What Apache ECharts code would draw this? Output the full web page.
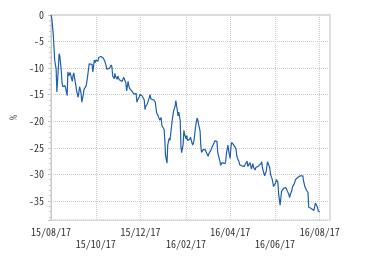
<!DOCTYPE html>
<html>
<head>
<meta charset="utf-8">
<script src="https://cdn.jsdelivr.net/npm/echarts@6/dist/echarts.min.js"></script>
<style>html,body{margin:0;padding:0;background:#fff;}#c{width:380px;height:259px;}</style>
</head>
<body>
<div id="c"></div>
<script>
// start date of the series and x-axis extent
const startDate = '2015-08-17';
const endDate = '2016-08-31';
// days elapsed since startDate for each observation
const days = [0,1,3,5,7,8,10,11,12,14,
15,16,18,19,20,22,23,24,26,27,
29,30,31,33,34,35,37,38,39,41,
42,44,45,46,48,50,52,54,56,57,
59,60,61,64,65,68,69,71,73,75,
76,78,80,82,83,84,86,87,88,90,
91,93,94,95,97,98,99,101,102,103,
105,106,107,109,110,112,113,114,116,117,
118,120,121,124,125,127,128,129,131,132,
135,136,137,140,142,143,144,146,147,148,
150,151,152,154,155,156,158,159,161,162,
163,165,166,167,169,170,171,173,174,176,
177,178,180,181,182,184,185,186,188,189,
190,192,193,195,196,197,199,200,201,203,
204,205,207,208,210,211,212,214,215,216,
218,219,220,222,223,224,226,227,229,230,
231,233,234,235,237,238,239,241,242,244,
245,246,248,249,250,252,253,254,256,257,
260,263,264,265,267,268,269,271,272,273,
275,276,278,279,280,282,283,284,286,287,
288,290,291,293,294,295,297,298,299,301,
302,303,305,306,307,309,310,312,313,314,
316,317,318,320,321,322,324,325,326,328,
329,331,332,333,335,336,337,339,340,341,
343,344,346,347,348,350,351,352,354,355,
356,358,359,360,362,363,364,366];
// cumulative change, %
const values = [0,-0.5,-3.5,-8.5,-10.2,-14.5,-10,-7.3,-7.7,-10.5,
-12.8,-13.5,-13.6,-13.3,-13.8,-15.2,-10.7,-11.5,-10.8,-10.5,
-12.5,-11.4,-10.9,-12.6,-13.4,-14.4,-15.5,-15.8,-13.5,-14.8,
-16.4,-15.0,-14.0,-13.7,-13.3,-11.4,-9.2,-9.0,-9.3,-10.7,
-8.5,-9.0,-8.5,-8.7,-8.0,-7.8,-7.8,-8.1,-8.6,-9.5,
-10.2,-10.4,-10.0,-9.4,-9.8,-11.5,-12.0,-11.0,-11.6,-12.1,
-11.5,-12.2,-12.0,-12.4,-12.5,-12.2,-11.7,-12.0,-12.8,-14.3,
-12.5,-13.3,-13.8,-13.9,-14.3,-14.6,-14.9,-15.2,-14.8,-16.4,
-16.0,-15.5,-15.0,-15.2,-15.3,-16.0,-17.8,-17.2,-16.8,-16.4,
-15.0,-15.8,-16.1,-16.0,-16.4,-17.5,-18.5,-19.0,-19.3,-19.8,
-19.3,-20.8,-20.6,-21.5,-23.5,-26.5,-27.9,-24.5,-23.2,-23.6,
-22.4,-19.9,-19.0,-18.0,-17.2,-16.1,-17.0,-19.0,-18.3,-19.9,
-24.9,-25.9,-24.3,-21.7,-22.5,-23.3,-22.7,-23.6,-23.9,-23.4,
-23.0,-24.1,-24.5,-23.5,-22.1,-20.9,-19.4,-19.8,-20.6,-21.8,
-24.5,-25.9,-25.4,-25.2,-25.3,-25.7,-25.4,-26.6,-26.1,-25.9,
-25.4,-25.0,-24.7,-24.1,-23.7,-23.4,-23.8,-25.8,-27.0,-27.5,
-28.3,-27.8,-28.0,-27.9,-28.0,-27.4,-26.0,-24.5,-25.6,-27.0,
-25.0,-24.0,-24.2,-24.5,-24.6,-25.2,-26.5,-27.0,-27.6,-28.2,
-28.4,-28.5,-28.6,-28.0,-27.5,-28.5,-28.6,-27.8,-28.3,-29.0,
-28.0,-28.7,-29.2,-28.7,-28.9,-28.5,-28.3,-28.6,-28.0,-27.6,
-28.8,-29.8,-30.3,-29.5,-28.5,-27.6,-27.8,-28.8,-30.0,-30.8,
-31.4,-32.3,-32.6,-31.6,-31.0,-31.5,-33.6,-35.8,-34.5,-33.2,
-33.0,-32.6,-32.4,-32.5,-32.8,-33.2,-33.8,-34.4,-33.8,-33.0,
-32.3,-31.9,-31.5,-31.0,-30.8,-30.6,-30.4,-30.3,-30.5,-30.4,
-30.3,-31.3,-32.4,-32.7,-33.0,-33.4,-36.2,-36.4,-36.4,-36.3,
-36.4,-36.8,-36.2,-35.4,-35.9,-36.3,-36.9,-37.1];
// x tick dates and their labels
const tickDates = ['2015-08-17','2015-10-17','2015-12-17','2016-02-17','2016-04-17','2016-06-17','2016-08-17'];
const tickLabels = ['15/08/17','15/10/17','15/12/17','16/02/17','16/04/17','16/06/17','16/08/17'];
const yMin = -38.6, yMax = 0;

function ts(s){ const p = s.split('-').map(Number); return Date.UTC(p[0], p[1]-1, p[2]); }
const DAY = 86400000;
const t0 = ts(startDate);
const tickTs = tickDates.map(ts);
const data = days.map((d, i) => [t0 + d * DAY, values[i]]);
const FONT = "'Noto Sans Mono CJK JP', 'DejaVu Sans Mono', monospace";

const chart = echarts.init(document.getElementById('c'), null, {renderer: 'canvas'});
chart.setOption({
  animation: false,
  backgroundColor: '#fff',
  grid: {left: 51, right: 50, top: 15, bottom: 39, show: true, borderColor: '#d0d0d0', borderWidth: 1},
  xAxis: {
    type: 'value', min: t0, max: ts(endDate),
    axisLine: {lineStyle: {color: '#dcdcdc', width: 2}},
    axisTick: {show: true, customValues: tickTs, length: 3, lineStyle: {color: '#ccc', type: 'dotted'}},
    axisLabel: {
      customValues: tickTs, fontFamily: FONT, fontSize: 10, color: '#333', margin: 6, lineHeight: 12,
      formatter: function (v) {
        const i = tickTs.indexOf(v);
        const s = i >= 0 ? tickLabels[i] : '';
        return i % 2 === 1 ? '\n' + s : s;
      }
    },
    splitLine: {show: true, lineStyle: {color: '#ccc', type: 'dotted'}}
  },
  yAxis: [{
    type: 'value', min: yMin, max: yMax, splitNumber: 8,
    name: '%', nameLocation: 'middle', nameRotate: 90, nameGap: 24,
    nameTextStyle: {fontFamily: FONT, fontSize: 10, color: '#333'},
    axisLine: {show: true, lineStyle: {color: '#c8c8c8'}},
    axisTick: {show: true, length: 3, lineStyle: {color: '#c8c8c8'}},
    minorTick: {show: true, splitNumber: 5, length: 2, lineStyle: {color: '#c8c8c8'}},
    axisLabel: {showMinLabel: false, fontFamily: FONT, fontSize: 10, color: '#333', margin: 7},
    splitLine: {show: true, lineStyle: {color: '#ccc', type: 'dotted'}}
  }, {
    type: 'value', min: yMin, max: yMax, position: 'right',
    axisLine: {show: true, lineStyle: {color: '#e0e0e0', width: 2}},
    axisTick: {show: false}, axisLabel: {show: false}, splitLine: {show: false}
  }],
  series: [{
    type: 'line', data: data, showSymbol: false, symbol: 'none',
    lineStyle: {color: '#1f5fb0', width: 1.2}
  }]
});
</script>
</body>
</html>
